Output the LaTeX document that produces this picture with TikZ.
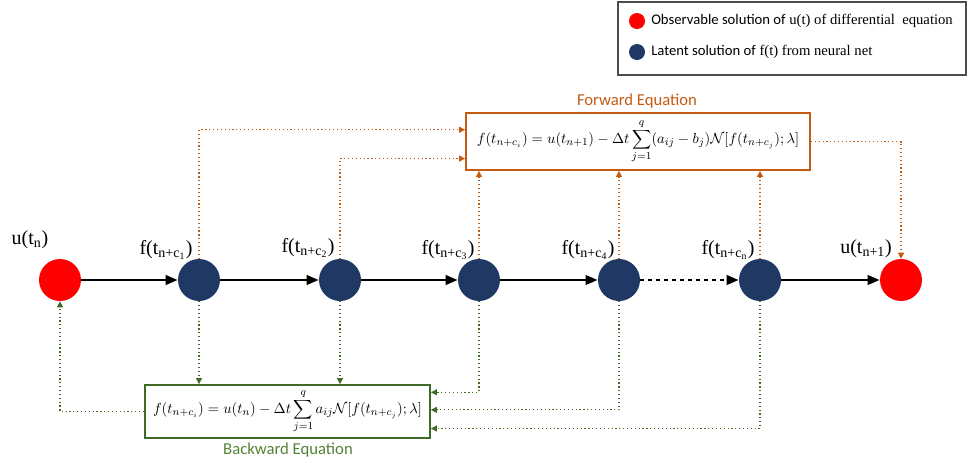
\documentclass[tikz,border=0pt]{standalone}
\usepackage{fontspec}
\setmainfont{Liberation Serif}
\newfontfamily\tms{Liberation Serif}
\newfontfamily\calib{Carlito}
\usetikzlibrary{arrows.meta,calc}
\definecolor{navy}{HTML}{203864}
\definecolor{fwdc}{HTML}{C55A11}
\definecolor{bwdc}{HTML}{548235}
\definecolor{bwdb}{HTML}{3F6B26}
\tikzset{
  obs/.style={circle,fill=red,minimum size=31.5pt,inner sep=0pt},
  lat/.style={circle,fill=navy,minimum size=31.5pt,inner sep=0pt},
  lbl/.style={font=\tms\fontsize{15}{17}\selectfont,inner sep=0pt},
  flow/.style={line width=1.9pt,-{Triangle[length=9pt,width=7pt]}},
  fwdline/.style={fwdc,dotted,line width=0.9pt,-{Triangle[length=4.5pt,width=4.5pt]}},
  bwdline/.style={bwdb,dotted,line width=0.9pt,-{Triangle[length=4.5pt,width=4.5pt]}},
  eqbox/.style={draw,line width=1.4pt,inner sep=0pt,font=\fontsize{11}{12}\selectfont},
}
\begin{document}
\begin{tikzpicture}[x=0.75pt,y=-0.75pt]
\useasboundingbox (0,0) rectangle (968,462);
% legend
\node[draw=black!70,line width=1pt,minimum width=261pt,minimum height=54.75pt,inner sep=0pt] (legend) at (792,38.5) {};
\node[circle,fill=red,minimum size=12pt,inner sep=0pt] (ld1) at (637,21) {};
\node[circle,fill=navy,minimum size=12pt,inner sep=0pt] (ld2) at (637,52) {};
\node[anchor=west,inner sep=0pt,font=\tms\fontsize{11}{12}\selectfont] (lt1) at (651,21) {{\calib Observable solution of} u(t) of differential\ \ equation};
\node[anchor=west,inner sep=0pt,font=\tms\fontsize{11}{12}\selectfont] (lt2) at (651,52) {{\calib Latent solution of} f(t) from neural net};
% main nodes
\node[obs] (u0) at (60,280) {};
\node[lat] (n1) at (199,280) {};
\node[lat] (n2) at (340,280) {};
\node[lat] (n3) at (479,280) {};
\node[lat] (n4) at (619,280) {};
\node[lat] (n5) at (760,280) {};
\node[obs] (u1) at (901,280) {};
% labels
\node[lbl] (lu0) at (30,240) {u(t\textsubscript{n})};
\node[lbl] (l1) at (166,250) {f(t\textsubscript{n+c\textsubscript{1}})};
\node[lbl] (l2) at (308,248) {f(t\textsubscript{n+c\textsubscript{2}})};
\node[lbl] (l3) at (448,250) {f(t\textsubscript{n+c\textsubscript{3}})};
\node[lbl] (l4) at (588,250) {f(t\textsubscript{n+c\textsubscript{4}})};
\node[lbl] (l5) at (728,250) {f(t\textsubscript{n+c\textsubscript{n}})};
\node[lbl] (lu1) at (866,249) {u(t\textsubscript{n+1})};
% flow arrows
\draw[flow] (u0) -- (n1);
\draw[flow] (n1) -- (n2);
\draw[flow] (n2) -- (n3);
\draw[flow] (n3) -- (n4);
\draw[flow,dash pattern=on 3pt off 3pt] (n4) -- (n5);
\draw[flow] (n5) -- (u1);
% equation boxes
\node[eqbox,draw=fwdc,minimum width=258pt,minimum height=42.75pt] (fwd) at (638,141.5)
  {$\displaystyle f(t_{n+c_i}) = u(t_{n+1}) - \Delta t\sum_{j=1}^{q}(a_{ij}-b_j)\mathcal{N}[f(t_{n+c_j});\lambda]$};
\node[text=fwdc,font=\calib\fontsize{12.5}{14}\selectfont,inner sep=0pt] (fwdt) at (637,101) {Forward Equation};
\node[eqbox,draw=bwdb,minimum width=213.75pt,minimum height=39.75pt] (bwd) at (287.5,411.5)
  {$\displaystyle f(t_{n+c_i}) = u(t_{n}) - \Delta t\sum_{j=1}^{q}a_{ij}\mathcal{N}[f(t_{n+c_j});\lambda]$};
\node[text=bwdc,font=\calib\fontsize{12.5}{14}\selectfont,inner sep=0pt] (bwdt) at (288,450) {Backward Equation};
% forward connectors
\draw[fwdline] (n1.north) |- ($(fwd.north west)!0.3!(fwd.south west)$);
\draw[fwdline] (n2.north) |- ($(fwd.north west)!0.79!(fwd.south west)$);
\draw[fwdline] (n3.north) -- (n3.north |- fwd.south);
\draw[fwdline] (n4.north) -- (n4.north |- fwd.south);
\draw[fwdline] (n5.north) -- (n5.north |- fwd.south);
\draw[fwdline] (fwd.east) -| (u1.north);
% backward connectors
\draw[bwdline] (n1.south) -- (n1.south |- bwd.north);
\draw[bwdline] (n2.south) -- (n2.south |- bwd.north);
\draw[bwdline] (n3.south) |- ($(bwd.north east)!0.15!(bwd.south east)$);
\draw[bwdline] (n4.south) |- ($(bwd.north east)!0.47!(bwd.south east)$);
\draw[bwdline] (n5.south) |- ($(bwd.north east)!0.81!(bwd.south east)$);
\draw[bwdline] (bwd.west) -| (u0.south);
\end{tikzpicture}
\end{document}
